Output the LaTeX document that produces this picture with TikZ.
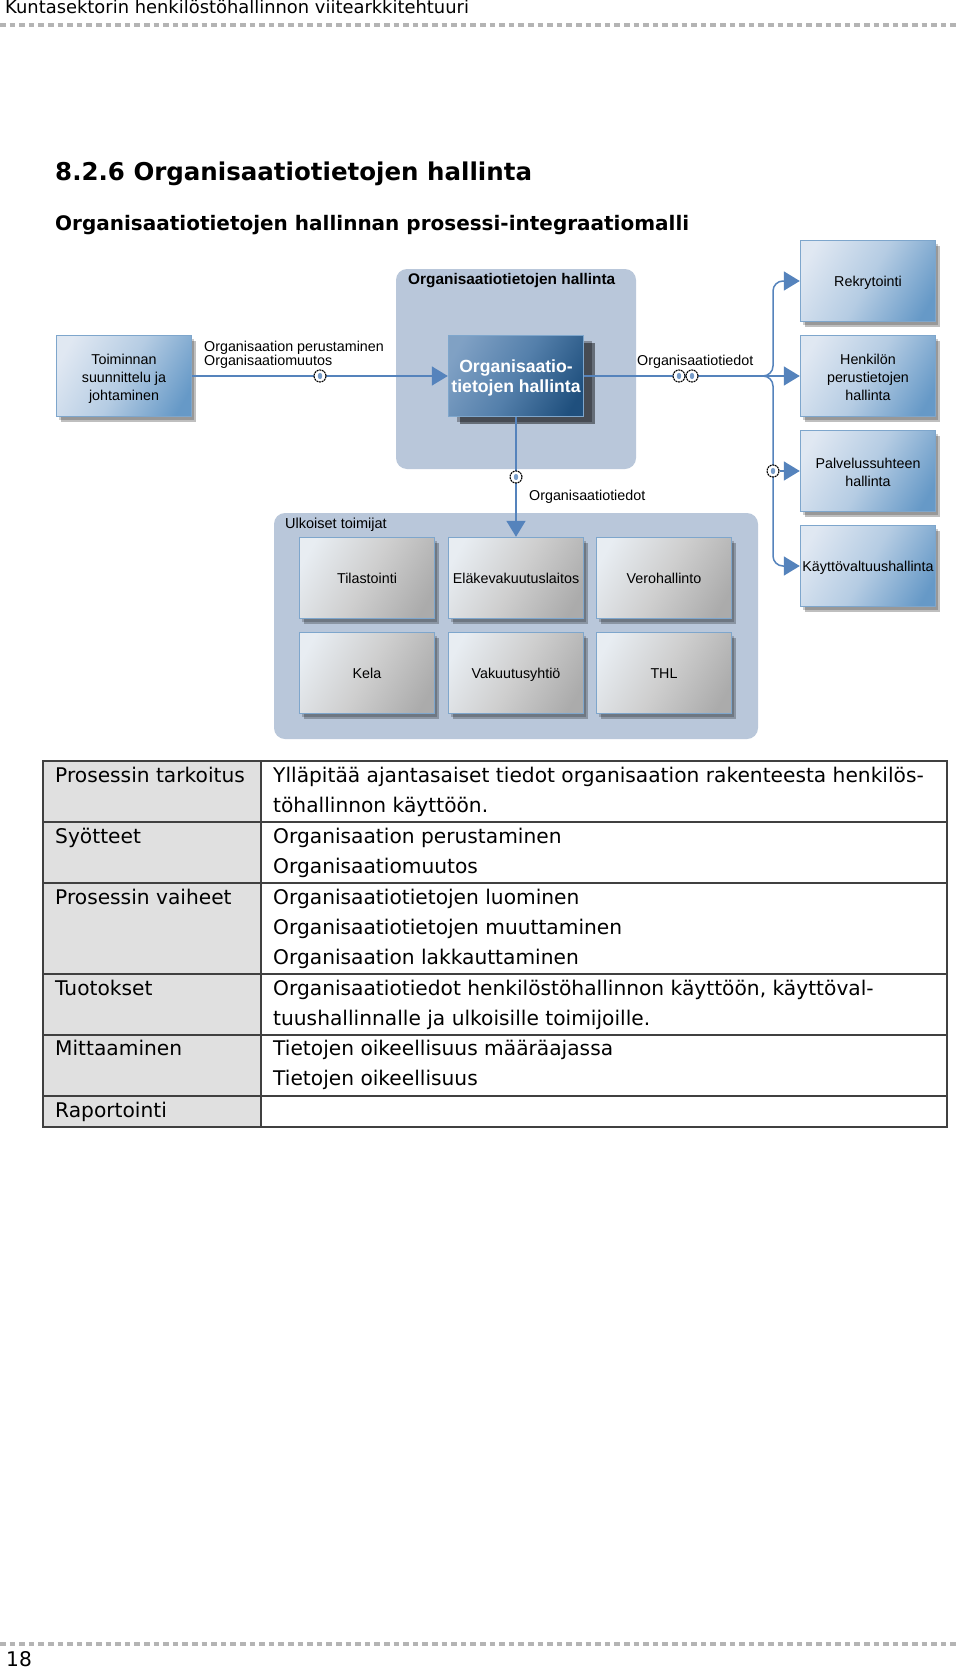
\documentclass[tikz,border=0pt]{standalone}
\usepackage{fontspec}
\setmainfont{Liberation Sans}
\newfontfamily\pagefont{DejaVu Sans}
\usetikzlibrary{arrows.meta,shadows}

\definecolor{panelblue}{HTML}{B9C7DA}
\definecolor{flowblue}{HTML}{5583BC}
\definecolor{frameblue}{HTML}{7EA6CC}
\definecolor{dotgrey}{HTML}{B4B4B4}
\definecolor{cellgrey}{HTML}{E0E0E0}

\pgfdeclarehorizontalshading{bluefill}{100bp}{rgb(0bp)=(.88,.91,.95); rgb(22bp)=(.88,.91,.95); rgb(50bp)=(.71,.80,.89); rgb(78bp)=(.40,.60,.78); rgb(100bp)=(.40,.60,.78)}
\pgfdeclarehorizontalshading{darkfill}{100bp}{rgb(0bp)=(.50,.63,.77); rgb(22bp)=(.50,.63,.77); rgb(50bp)=(.33,.50,.67); rgb(78bp)=(.12,.31,.49); rgb(100bp)=(.12,.31,.49)}
\pgfdeclarehorizontalshading{greyfill}{100bp}{rgb(0bp)=(.91,.93,.95); rgb(22bp)=(.91,.93,.95); rgb(50bp)=(.81,.81,.81); rgb(78bp)=(.67,.67,.67); rgb(100bp)=(.67,.67,.67)}

\newcommand{\firstline}{\rule{0pt}{17pt}}

\tikzset{
  panel/.style={fill=panelblue,rounded corners=11pt},
  boxbase/.style={draw=frameblue,line width=1.4pt,minimum width=135pt,minimum height=81pt,inner sep=0pt,align=center,font=\fontsize{14.3}{18}\selectfont,shading angle=-30,
    execute at begin node={\rule{0pt}{15pt}},execute at end node={\rule[-3.5pt]{0pt}{0pt}}},
  softshadow/.style={drop shadow={shadow xshift=2.5pt,shadow yshift=-3pt,fill=black,opacity=.2},drop shadow={shadow xshift=4.5pt,shadow yshift=-5pt,fill=black,opacity=.25}},
  bluebox/.style={boxbase,shading=bluefill,softshadow},
  greybox/.style={boxbase,shading=greyfill,softshadow},
  darkbox/.style={boxbase,shading=darkfill,text=white,font=\fontsize{17.6}{20}\selectfont\bfseries,
    drop shadow={shadow xshift=8pt,shadow yshift=-5pt,fill=black,opacity=.3},drop shadow={shadow xshift=11pt,shadow yshift=-7pt,fill=black,opacity=.45}},
  flow/.style={draw=flowblue,line width=1.5pt},
  flowarrow/.style={flow,-{Triangle[length=16pt,width=19pt,fill=flowblue]}},
  msgmark/.style={circle,draw=black,dash pattern=on 2pt off .7pt,fill=white,line width=1.1pt,minimum size=12pt,inner sep=0pt},
  label/.style={anchor=base west,inner sep=0pt,font=\fontsize{14.3}{16}\selectfont,align=left},
  pagetext/.style={anchor=base west,inner sep=0pt,font=\pagefont\fontsize{20.2}{24}\selectfont},
  dots/.style={dotgrey,line width=4.5pt,dash pattern=on 5.5pt off 4.1pt},
  rowline/.style={draw=black!75,line width=1.3pt}
}

\begin{document}
\begin{tikzpicture}[x=1pt,y=-1pt]
  \useasboundingbox[fill=white] (0,0) rectangle (960,1670);

  % page head
  \node[pagetext,font=\pagefont\fontsize{17.9}{20}\selectfont] (head) at (5,14) {Kuntasektorin henkilöstöhallinnon viitearkkitehtuuri};
  \draw[dots] (0,25) -- (960,25);
  \node[pagetext,font=\pagefont\bfseries\fontsize{24.5}{30}\selectfont] (title) at (55,180) {8.2.6 Organisaatiotietojen hallinta};
  \node[pagetext,font=\pagefont\bfseries\fontsize{20}{24}\selectfont] (subtitle) at (55,230) {Organisaatiotietojen hallinnan prosessi-integraatiomalli};

  % panels
  \fill[panel] (396,269) rectangle (636,469);
  \fill[panel] (274,513) rectangle (758,739);
  \node[label,font=\fontsize{15.4}{16}\selectfont\bfseries] (paneltitle) at (408,284) {Organisaatiotietojen hallinta};
  \node[label,font=\fontsize{14.5}{16}\selectfont] (ulkoiset) at (285,528) {Ulkoiset toimijat};

  % process boxes
  \begin{scope}[every node/.style={bluebox}]
    \node (suunnittelu) at (124,376) {\firstline Toiminnan\\suunnittelu ja\\johtaminen};
    \node (rekry)       at (868,281) {Rekrytointi};
    \node (henkilo)     at (868,376) {\firstline Henkilön\\perustietojen\\hallinta};
    \node (palvelu)     at (868,471) {\firstline Palvelussuhteen\\hallinta};
    \node (kaytto)      at (868,566) {Käyttövaltuushallinta};
  \end{scope}
  \node[darkbox] (orgtiedot) at (516,376) {\firstline Organisaatio-\\tietojen hallinta};

  \begin{scope}[every node/.style={greybox}]
    \node (tilasto) at (367,578) {Tilastointi};
    \node (elake)   at (516,578) {Eläkevakuutuslaitos};
    \node (vero)    at (664,578) {Verohallinto};
    \node (kela)    at (367,673) {Kela};
    \node (vakuutus) at (516,673) {Vakuutusyhtiö};
    \node (thl)     at (664,673) {THL};
  \end{scope}

  % connectors
  \coordinate (jako) at (763,376);
  \coordinate (haara) at (773,376);
  \draw[flowarrow] (suunnittelu) -- (orgtiedot);
  \draw[flowarrow] (orgtiedot) -- (henkilo);
  \draw[flowarrow] (orgtiedot) -- (elake);
  \draw[flowarrow,rounded corners=10pt] (jako) -- (haara) |- (rekry.west);
  \draw[flowarrow,rounded corners=10pt] (jako) -- (haara) |- (kaytto.west);
  \node[msgmark] (mark1) at (320,376) {};
  \node[msgmark] (mark2) at (679,376) {};
  \node[msgmark] (mark3) at (692,376) {};
  \node[msgmark] (mark4) at (516,477) {};
  \node[msgmark] (mark5) at (773,471) {};
  \draw[flowarrow] (mark5) -- (palvelu);
  \foreach \m in {mark1,mark2,mark3,mark4,mark5}
    \fill[flowblue!80] (\m) ellipse (2.2pt and 3.2pt);

  \node[label] (inputs) at (204,351) {Organisaation perustaminen};
  \node[label] (inputs2) at (204,365) {Organisaatiomuutos};
  \node[label] (outputs) at (637,365) {Organisaatiotiedot};
  \node[label] (outputs2) at (529,500) {Organisaatiotiedot};

  % table
  \fill[cellgrey] (43,761) rectangle (261,1127);
  \draw[rowline] (43,761) rectangle (947,1127);
  \draw[rowline] (261,761) -- (261,1127);
  \foreach \y in {822,883,974,1035,1096}
    \draw[rowline] (43,\y) -- (947,\y);

  \begin{scope}[every node/.style={pagetext}]
    \node (k1) at (55,782)  {Prosessin tarkoitus};
    \node (k2) at (55,843)  {Syötteet};
    \node (k3) at (55,904)  {Prosessin vaiheet};
    \node (k4) at (55,995)  {Tuotokset};
    \node (k5) at (55,1055) {Mittaaminen};
    \node (k6) at (55,1117) {Raportointi};
    \node (v1) at (273,782)  {Ylläpitää ajantasaiset tiedot organisaation rakenteesta henkilös-};
    \node (v2) at (273,812)  {töhallinnon käyttöön.};
    \node (v3) at (273,843)  {Organisaation perustaminen};
    \node (v4) at (273,873)  {Organisaatiomuutos};
    \node (v5) at (273,904)  {Organisaatiotietojen luominen};
    \node (v6) at (273,934)  {Organisaatiotietojen muuttaminen};
    \node (v7) at (273,964)  {Organisaation lakkauttaminen};
    \node (v8) at (273,995)  {Organisaatiotiedot henkilöstöhallinnon käyttöön, käyttöval-};
    \node (v9) at (273,1025) {tuushallinnalle ja ulkoisille toimijoille.};
    \node (v10) at (273,1055) {Tietojen oikeellisuus määräajassa};
    \node (v11) at (273,1085) {Tietojen oikeellisuus};
  \end{scope}

  % page foot
  \draw[dots] (0,1644) -- (960,1644);
  \node[pagetext] (pageno) at (6,1666) {18};
\end{tikzpicture}
\end{document}
